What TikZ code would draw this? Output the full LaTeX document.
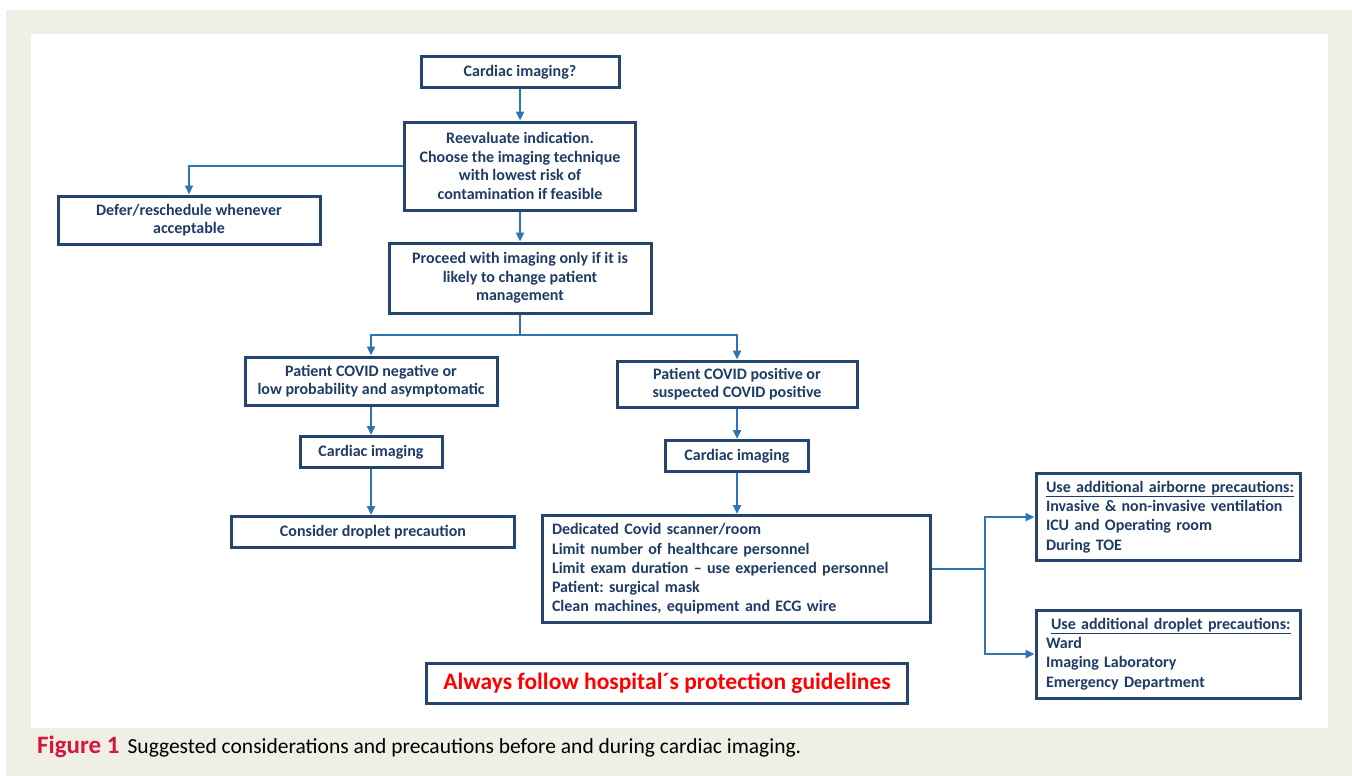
\documentclass[tikz,border=0pt]{standalone}
\usepackage{fontspec}
\setmainfont{Carlito}
\usetikzlibrary{arrows.meta}
\frenchspacing
\definecolor{bgbeige}{HTML}{EFEFE5}
\definecolor{boxborder}{HTML}{24466E}
\definecolor{txtnavy}{HTML}{1F3C66}
\definecolor{linkblue}{HTML}{2E75B6}
\definecolor{alertred}{HTML}{FF0000}
\definecolor{figred}{HTML}{D4163C}
\tikzset{
  flowbox/.style={draw=boxborder, line width=3pt, fill=white, text=txtnavy,
    font=\fontsize{16}{18.5}\selectfont\bfseries, align=center,
    inner sep=0pt, minimum width=#1},
  flowbox/.default=100pt,
  listbox/.style={draw=boxborder, line width=3pt, fill=white, text=txtnavy,
    font=\fontsize{16}{19.3}\selectfont\bfseries, align=left,
    inner sep=0pt, inner xsep=10pt, text width=#1},
  listbox/.default=200pt,
  link/.style={draw=linkblue, line width=2.5pt, -{Triangle[length=9pt,width=8pt]}},
  plainlink/.style={draw=linkblue, line width=2.5pt},
}
\begin{document}
\begin{tikzpicture}[x=1pt,y=-1pt]
\useasboundingbox (0,0) rectangle (1352,776);
\fill[white] (0,0) rectangle (1352,776);
\fill[bgbeige] (6,10) rectangle (1352,776);
\fill[white] (31,34) rectangle (1328,728);

\node[flowbox=198pt, minimum height=31pt] (q) at (520,72) {Cardiac imaging?};
\node[flowbox=231pt, minimum height=88pt] (reeval) at (520,166)
  {Reevaluate indication.\\Choose the imaging technique\\with lowest risk of\\contamination if feasible};
\node[flowbox=262pt, minimum height=48pt] (defer) at (189,220)
  {Defer/reschedule whenever\\acceptable};
\node[flowbox=262pt, minimum height=70pt] (proceed) at (520,278)
  {Proceed with imaging only if it is\\likely to change patient\\management};
\node[flowbox=252pt, minimum height=48pt] (neg) at (371,381)
  {Patient COVID negative or\\low probability and asymptomatic};
\node[flowbox=240pt, minimum height=46pt] (pos) at (737,384)
  {Patient COVID positive or\\suspected COVID positive};
\node[flowbox=142pt, minimum height=31pt] (ciL) at (371,452) {Cardiac imaging};
\node[flowbox=143pt, minimum height=31pt] (ciR) at (737,456) {Cardiac imaging};
\node[flowbox=283pt, minimum height=31pt] (drop) at (373,532) {Consider droplet precaution};
\node[listbox=368pt, minimum height=107pt] (ded) at (736,569)
  {Dedicated Covid scanner/room\\Limit number of healthcare personnel\\Limit exam duration -- use experienced personnel\\Patient: surgical mask\\Clean machines, equipment and ECG wire};
\node[listbox=244pt, minimum height=87pt] (air) at (1168,517)
  {\underline{Use additional airborne precautions:}\\Invasive \& non-invasive ventilation\\ICU and Operating room\\During TOE};
\node[listbox=244pt, minimum height=88pt] (dropl) at (1168,654)
  {\hspace*{5pt}\underline{Use additional droplet precautions:}\\Ward\\Imaging Laboratory\\Emergency Department};
\node[flowbox=481pt, minimum height=40pt, text=alertred,
  font=\fontsize{23.5}{26}\selectfont\bfseries] (alert) at (667,683)
  {Always follow hospital´s protection guidelines};

\coordinate (split) at (520,335);
\coordinate (fork) at (985,569);

\draw[link] (q) -- (reeval);
\draw[link] (reeval.west) -| (defer.north);
\draw[link] (reeval) -- (proceed);
\draw[plainlink] (proceed.south) -- (split);
\draw[link] (split) -| (neg.north);
\draw[link] (split) -| (pos.north);
\draw[link] (neg) -- (ciL);
\draw[link] (ciL.south) -- (ciL.south |- drop.north);
\draw[link] (pos) -- (ciR);
\draw[link] (ciR.south) -- (ciR.south |- ded.north);
\draw[plainlink] (ded.east) -- (fork);
\draw[link] (fork) |- (air.west);
\draw[link] (fork) |- (dropl.west);

\node[anchor=base west, inner sep=0pt] (cap) at (37,753)
  {{\color{figred}\fontsize{25}{28}\selectfont\bfseries Figure 1}\hspace{8pt}{\fontsize{21.5}{24}\selectfont Suggested considerations and precautions before and during cardiac imaging.}};
\end{tikzpicture}
\end{document}
